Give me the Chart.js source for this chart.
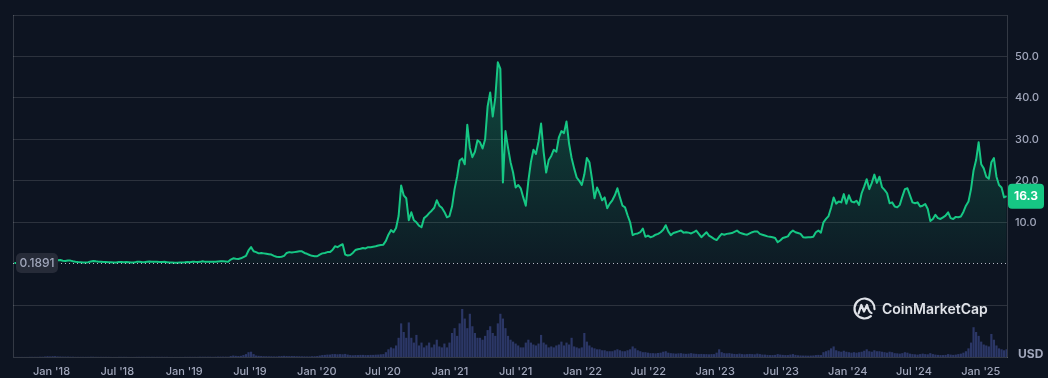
<!DOCTYPE html>
<html><head><meta charset="utf-8">
<script src="https://cdn.jsdelivr.net/npm/chart.js@4"></script>
<style>html,body{margin:0;padding:0;background:#0d1421;overflow:hidden}canvas{display:block}</style>
</head><body>
<canvas id="c" width="1048" height="378"></canvas>
<script>
// ---- data (weekly samples) ----
const startDate = '2017-09-21';
const stepDays = 7;
const baselinePrice = 0.1891;
const lastPrice = 16.3;
const prices = [
0.19,0.20,0.18,0.19,0.18,0.17,0.19,0.21,0.25,0.30,
0.28,0.30,0.45,0.65,0.72,0.95,1.10,0.85,0.90,0.70,
0.65,0.80,0.75,0.60,0.50,0.42,0.38,0.32,0.30,0.38,
0.55,0.68,0.58,0.50,0.48,0.42,0.40,0.38,0.33,0.28,
0.30,0.40,0.42,0.38,0.40,0.35,0.30,0.32,0.45,0.50,
0.40,0.38,0.48,0.55,0.48,0.45,0.46,0.44,0.42,0.45,
0.38,0.30,0.28,0.26,0.22,0.30,0.31,0.35,0.42,0.38,
0.50,0.45,0.44,0.45,0.60,0.45,0.48,0.50,0.48,0.46,
0.55,0.60,0.58,0.55,0.50,1.00,1.30,1.20,1.15,1.30,
1.60,1.90,3.20,4.00,3.00,2.80,2.50,2.60,2.50,2.40,
2.30,2.20,1.90,1.70,1.60,1.70,1.90,2.60,2.80,2.70,
2.80,2.90,3.00,3.00,2.60,2.40,2.10,1.90,1.80,1.80,
2.20,2.50,2.60,2.80,2.80,3.30,4.20,4.00,4.40,4.70,
2.20,2.00,2.10,2.60,3.30,3.50,3.60,3.80,3.70,4.00,
4.00,4.10,4.20,4.40,4.50,4.60,5.50,7.00,8.10,7.60,
8.60,11.5,18.9,16.5,15.8,10.5,12.4,10.5,10.0,9.2,
8.8,11.0,11.5,12.2,12.8,13.5,15.3,14.0,13.5,12.5,
11.2,11.5,13.8,18.0,21.0,24.9,25.4,24.0,33.5,28.0,
25.7,27.0,29.8,29.3,27.8,30.0,38.0,41.3,35.5,40.0,
48.6,47.0,19.6,32.0,28.0,24.5,22.0,18.4,19.0,18.2,
16.0,14.0,20.0,24.5,27.5,26.5,29.5,33.8,27.0,22.0,
25.0,26.0,27.5,27.0,30.5,32.0,31.5,34.3,29.0,25.5,
23.0,20.8,20.0,19.0,21.5,25.5,24.5,20.5,15.8,18.4,
17.0,15.3,16.0,13.4,14.5,15.3,16.5,18.2,16.0,14.0,
13.6,11.7,10.0,6.9,7.2,7.3,7.6,8.5,6.5,6.8,
6.4,6.6,7.0,7.2,7.6,8.2,9.3,7.8,6.9,7.4,
7.6,7.8,8.0,7.5,7.6,7.5,7.3,7.6,8.0,7.2,
6.4,7.0,7.6,6.8,6.4,6.0,5.7,6.5,7.2,7.0,
7.2,7.3,7.4,7.7,8.0,7.5,7.3,7.1,7.0,7.3,
7.6,7.8,7.8,7.2,7.0,6.8,6.6,6.5,6.4,6.2,
5.2,5.6,6.2,6.4,6.6,7.5,8.0,7.6,7.4,7.2,
6.4,6.3,6.4,6.4,6.5,7.6,8.0,7.5,10.0,10.8,
11.5,13.5,16.0,14.5,15.0,14.8,16.8,14.5,16.5,15.0,
14.8,15.2,14.2,17.0,18.6,20.4,18.0,19.5,21.5,19.5,
21.0,18.5,17.8,17.0,14.6,14.8,13.8,13.6,14.2,16.2,
18.0,18.2,16.5,14.8,14.6,14.8,13.8,14.0,14.4,13.2,
10.3,10.8,11.8,11.0,10.8,11.2,11.6,12.4,11.0,10.8,
11.3,11.2,11.4,12.5,14.0,15.0,18.0,22.5,25.0,29.3,
24.0,23.0,21.0,20.5,24.5,25.5,21.0,19.0,18.4,16.0,
16.3
];
// volume, billions USD
const volumes = [
0.01,0.01,0.01,0.01,0.01,0.01,0.02,0.02,0.02,0.02,
0.03,0.03,0.05,0.08,0.06,0.08,0.09,0.06,0.05,0.04,
0.04,0.04,0.03,0.03,0.02,0.02,0.02,0.02,0.02,0.02,
0.03,0.03,0.02,0.02,0.02,0.02,0.02,0.02,0.01,0.01,
0.01,0.02,0.02,0.02,0.02,0.01,0.01,0.01,0.02,0.02,
0.02,0.02,0.02,0.02,0.02,0.02,0.02,0.02,0.02,0.02,
0.02,0.01,0.01,0.01,0.01,0.01,0.01,0.02,0.02,0.02,
0.02,0.02,0.02,0.03,0.03,0.03,0.03,0.03,0.02,0.03,
0.04,0.04,0.04,0.04,0.03,
0.10,0.15,0.12,0.10,0.12,0.20,0.30,0.50,
0.55,0.30,0.15,0.12,
0.10,0.08,0.08,0.07,0.07,0.06,0.06,0.08,0.10,0.12,0.10,0.09,0.10,0.10,0.08,0.08,0.07,0.07,0.06,0.06,0.08,0.08,
0.10,0.15,0.20,0.22,0.25,0.25,0.30,0.30,0.28,0.30,0.28,0.32,
0.25,0.20,0.18,0.20,0.20,0.22,0.22,0.20,0.20,0.22,0.22,0.24,0.25,0.28,
0.30,0.50,0.80,1.00,0.90,1.20,
2.00,3.50,2.60,2.00,3.60,
2.0,1.5,2.3,1.2,1.5,1.0,1.2,1.5,1.0,1.3,1.8,1.1,1.0,1.4,1.0,
1.5,2.5,3.0,2.2,3.5,5.0,4.0,3.0,4.5,3.2,2.5,2.0,2.0,1.8,2.2,2.8,3.2,2.5,2.2,3.5,4.5,4.0,3.0,2.2,1.8,1.6,
1.4,1.2,1.0,1.0,1.5,1.8,1.5,1.3,1.2,1.4,2.3,1.5,1.3,1.0,1.1,1.0,1.2,1.3,1.6,1.2,1.5,1.3,2.0,1.1,1.0,0.9,
1.0,2.5,1.6,1.2,1.0,0.9,0.8,0.8,0.7,0.7,0.6,0.6,0.6,0.7,0.8,0.7,0.6,0.6,0.7,0.8,1.1,0.9,0.7,0.6,0.5,0.5,
0.45,0.4,0.4,0.38,0.42,0.45,0.55,0.6,0.45,0.4,0.38,0.35,0.38,0.4,0.35,0.33,0.35,0.4,0.35,0.33,0.3,0.32,0.3,0.3,0.28,0.3,
0.3,0.45,0.8,0.5,0.4,0.38,0.4,0.35,0.32,0.3,0.35,0.3,0.28,0.3,0.32,0.3,0.28,0.35,0.3,0.25,0.25,0.22,0.2,0.2,0.22,0.3,
0.25,0.22,0.2,0.2,0.25,0.3,0.22,0.18,0.16,0.15,0.15,0.14,0.15,0.16,0.2,0.22,0.2,0.5,0.6,0.7,0.9,1.1,0.7,0.6,0.55,0.65,
0.55,0.5,0.45,0.5,0.45,0.5,0.55,0.65,0.8,0.6,0.55,0.7,0.6,0.6,0.55,0.5,0.45,0.55,0.5,0.4,0.38,0.35,0.4,0.5,0.45,0.35,
0.3,0.28,0.25,0.3,0.35,0.3,0.28,0.4,0.3,0.25,0.22,0.2,0.2,0.22,0.3,0.25,0.22,0.25,0.3,0.35,0.45,0.6,0.9,1.5,3.1,2.6,
2.2,1.6,1.3,1.2,1.1,2.4,1.8,1.2,0.9,0.8,0.7,0.8
];
const xTickDates = ['2018-01-01','2018-07-01','2019-01-01','2019-07-01','2020-01-01','2020-07-01','2021-01-01','2021-07-01','2022-01-01','2022-07-01','2023-01-01','2023-07-01','2024-01-01','2024-07-01','2025-01-01'];
const xTickLabels = ["Jan '18","Jul '18","Jan '19","Jul '19","Jan '20","Jul '20","Jan '21","Jul '21","Jan '22","Jul '22","Jan '23","Jul '23","Jan '24","Jul '24","Jan '25"];
const yTickValues = [-10,0,10,20,30,40,50,60];
const yLabelValues = [10,20,30,40,50];
const xRange = ['2017-09-17','2025-03-14'];
const yRange = [-22.5, 60];
const volumeMax = 35.6;

// ---- build ----
const DAY = 86400000;
const t0 = Date.parse(startDate);
const priceData = prices.map((v,i)=>({x: t0 + i*stepDays*DAY, y: v}));
const volData = volumes.map((v,i)=>({x: t0 + i*stepDays*DAY, y: v}));
const GREEN = '#16c784';
const TEXT = '#a1a7bb';
const GRID = 'rgba(255,255,255,0.13)';
const FRAME = 'rgba(255,255,255,0.16)';

const overlay = {
  id: 'overlay',
  beforeDraw(chart){
    const c = chart.ctx; c.save(); c.fillStyle = '#0d1421'; c.fillRect(0,0,chart.width,chart.height); c.restore();
  },
  afterDatasetsDraw(chart){
    const c = chart.ctx, ca = chart.chartArea, ys = chart.scales.y;
    c.save();
    // left frame
    c.strokeStyle = FRAME; c.lineWidth = 1;
    c.beginPath(); c.moveTo(ca.left+0.5, ca.top); c.lineTo(ca.left+0.5, ca.bottom); c.stroke();
    // baseline dotted
    const by = Math.round(ys.getPixelForValue(baselinePrice)) + 0.5;
    c.strokeStyle = 'rgba(210,214,224,0.85)'; c.setLineDash([1,3]);
    c.beginPath(); c.moveTo(ca.left, by); c.lineTo(ca.right, by); c.stroke();
    c.setLineDash([]);
    c.restore();
  },
  afterDraw(chart){
    const c = chart.ctx, ca = chart.chartArea, ys = chart.scales.y;
    c.save();
    // start price box
    const by = ys.getPixelForValue(baselinePrice);
    c.fillStyle = '#262b38';
    c.beginPath(); c.roundRect(16, by-10, 42, 20, 5); c.fill();
    c.fillStyle = TEXT; c.font = '500 12px Inter'; c.textAlign = 'center'; c.textBaseline = 'middle';
    c.fillText(String(baselinePrice), 37, by+0.5);
    // last price box
    const ly = ys.getPixelForValue(lastPrice);
    c.fillStyle = GREEN;
    c.beginPath(); c.roundRect(ca.right+1, ly-12.5, 36, 25, 4); c.fill();
    c.fillStyle = '#ffffff'; c.font = '700 12px Inter';
    c.fillText(lastPrice.toFixed(1), ca.right+19, ly+0.5);
    // USD
    c.fillStyle = TEXT; c.font = '700 12px Inter'; c.textAlign = 'left';
    c.fillText('USD', 1018, 354);
    // watermark
    const cx = 864.5, cy = 308.5;
    c.strokeStyle = '#dfe2e8'; c.lineWidth = 2.2; c.lineCap = 'round'; c.lineJoin = 'round';
    c.beginPath(); c.arc(cx, cy, 10, Math.PI*0.28, Math.PI*2.02); c.stroke();
    c.beginPath();
    c.moveTo(cx-6, cy+5); c.lineTo(cx-3.2, cy-3.5); c.lineTo(cx-0.5, cy+3); c.lineTo(cx+2.5, cy-3.5);
    c.quadraticCurveTo(cx+4.5, cy+4, cx+7, cy+4.5);
    c.stroke();
    c.fillStyle = '#dfe2e8'; c.font = '600 14px Inter'; c.textBaseline = 'alphabetic';
    c.fillText('CoinMarketCap', 882, 314);
    c.restore();
  }
};

new Chart(document.getElementById('c'), {
  type: 'line',
  data: {
    datasets: [
      {
        type: 'line', data: priceData, yAxisID: 'y', order: 0,
        borderColor: GREEN, borderWidth: 2, pointRadius: 0, tension: 0,
        borderJoinStyle: 'round',
        fill: {value: baselinePrice},
        backgroundColor: (ctx) => {
          const chart = ctx.chart; if (!chart.chartArea) return 'rgba(22,199,132,0.1)';
          const ys = chart.scales.y;
          const g = chart.ctx.createLinearGradient(0, ys.getPixelForValue(50), 0, ys.getPixelForValue(0));
          g.addColorStop(0, 'rgba(22,199,132,0.30)');
          g.addColorStop(1, 'rgba(22,199,132,0.04)');
          return g;
        }
      },
      {
        type: 'bar', data: volData, yAxisID: 'yv', xAxisID: 'x', order: 1,
        backgroundColor: 'rgba(70,84,160,0.55)', barPercentage: 0.85, categoryPercentage: 1
      }
    ]
  },
  options: {
    responsive: false, animation: false, devicePixelRatio: 1,
    layout: {padding: {left: 13, top: 15, right: 0, bottom: 0}},
    plugins: {legend: {display: false}, tooltip: {enabled: false}},
    scales: {
      x: {
        type: 'linear', offset: false,
        min: Date.parse(xRange[0]), max: Date.parse(xRange[1]),
        grid: {display: false, drawTicks: false},
        border: {display: true, color: FRAME},
        afterBuildTicks: (s) => { s.ticks = xTickDates.map(d => ({value: Date.parse(d)})); },
        afterFit: (s) => { s.height = 21; },
        ticks: {
          autoSkip: false, maxRotation: 0, padding: 8, color: TEXT,
          font: {family: 'Inter', size: 11, weight: '500'},
          callback: (v) => { const k = xTickDates.findIndex(d => Date.parse(d) === v); return k >= 0 ? xTickLabels[k] : ''; }
        }
      },
      y: {
        type: 'linear', position: 'right', min: yRange[0], max: yRange[1],
        grid: {drawTicks: false, color: (ctx) => (ctx.tick && ctx.tick.value === 0) ? 'rgba(0,0,0,0)' : GRID},
        border: {display: true, color: FRAME},
        afterBuildTicks: (s) => { s.ticks = yTickValues.map(v => ({value: v})); },
        afterFit: (s) => { s.width = 41; },
        ticks: {
          padding: 8, color: TEXT, font: {family: 'Inter', size: 11, weight: '500'},
          callback: (v) => yLabelValues.includes(v) ? v.toFixed(1) : ''
        }
      },
      yv: {type: 'linear', display: false, min: 0, max: volumeMax}
    }
  },
  plugins: [overlay]
});
</script>
</body></html>
